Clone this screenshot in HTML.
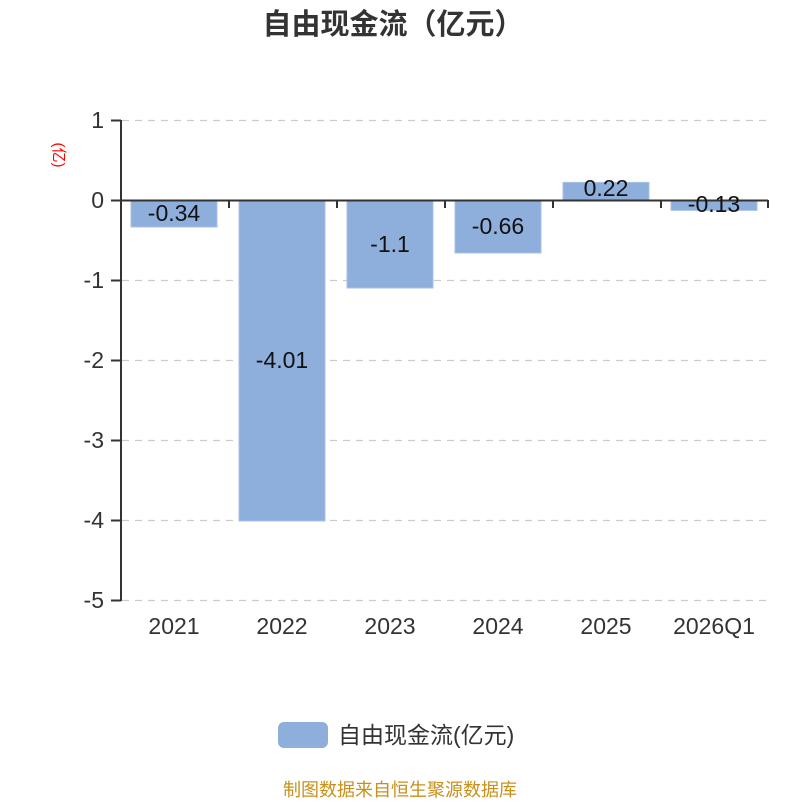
<!DOCTYPE html>
<html><head><meta charset="utf-8"><style>
body{margin:0;background:#fff;}
svg text{font-family:"Liberation Sans","Noto Sans CJK SC",sans-serif;}
</style></head><body>
<svg width="800" height="800" xmlns="http://www.w3.org/2000/svg">
<text x="393" y="34" font-size="29" font-weight="bold" fill="#333" text-anchor="middle">自由现金流（亿元）</text>
<g stroke="#ccc" stroke-width="1.3" stroke-dasharray="7,6">
<line x1="122" y1="120.5" x2="768" y2="120.5"/>
<line x1="122" y1="280.5" x2="768" y2="280.5"/>
<line x1="122" y1="360.5" x2="768" y2="360.5"/>
<line x1="122" y1="440.5" x2="768" y2="440.5"/>
<line x1="122" y1="520.5" x2="768" y2="520.5"/>
<line x1="122" y1="600.5" x2="768" y2="600.5"/>
</g>
<g fill="#8eaedb" stroke="#a9c2e6" stroke-width="1">
<rect x="131" y="200" width="86" height="27"/>
<rect x="239" y="200" width="86" height="321"/>
<rect x="347" y="200" width="86" height="88"/>
<rect x="455" y="200" width="86" height="53"/>
<rect x="563" y="182.4" width="86" height="17.6"/>
<rect x="671" y="200" width="86" height="10.4"/>
</g>
<g stroke="#333" stroke-width="2">
<line x1="121" y1="120" x2="121" y2="601"/>
<line x1="120" y1="200.5" x2="768" y2="200.5"/>
<line x1="111" y1="120.5" x2="121" y2="120.5"/>
<line x1="111" y1="200.5" x2="121" y2="200.5"/>
<line x1="111" y1="280.5" x2="121" y2="280.5"/>
<line x1="111" y1="360.5" x2="121" y2="360.5"/>
<line x1="111" y1="440.5" x2="121" y2="440.5"/>
<line x1="111" y1="520.5" x2="121" y2="520.5"/>
<line x1="111" y1="600.5" x2="121" y2="600.5"/>
<line x1="229" y1="200" x2="229" y2="208"/>
<line x1="337" y1="200" x2="337" y2="208"/>
<line x1="445" y1="200" x2="445" y2="208"/>
<line x1="553" y1="200" x2="553" y2="208"/>
<line x1="661" y1="200" x2="661" y2="208"/>
<line x1="768" y1="200" x2="768" y2="208"/>
</g>
<g font-size="23" fill="#333" text-anchor="end">
<text x="104" y="128">1</text><text x="104" y="208">0</text><text x="104" y="288">-1</text>
<text x="104" y="368">-2</text><text x="104" y="448">-3</text><text x="104" y="528">-4</text><text x="104" y="608">-5</text>
</g>
<text transform="translate(54,155) rotate(90)" font-size="15" fill="red" text-anchor="middle">(亿)</text>
<g font-size="23" fill="#333" text-anchor="middle">
<text x="174" y="634">2021</text><text x="282" y="634">2022</text><text x="390" y="634">2023</text>
<text x="498" y="634">2024</text><text x="606" y="634">2025</text><text x="714" y="634">2026Q1</text>
</g>
<g font-size="23" fill="#111" text-anchor="middle">
<text x="174" y="221">-0.34</text><text x="282" y="368">-4.01</text><text x="390" y="252">-1.1</text>
<text x="498" y="234">-0.66</text><text x="606" y="196">0.22</text><text x="714" y="212">-0.13</text>
</g>
<rect x="278" y="722" width="50" height="26" rx="6" fill="#8eaedb"/>
<text x="338" y="743" font-size="23" fill="#333">自由现金流(亿元)</text>
<text x="400" y="796" font-size="18" fill="#c8901a" text-anchor="middle">制图数据来自恒生聚源数据库</text>
</svg>
</body></html>
